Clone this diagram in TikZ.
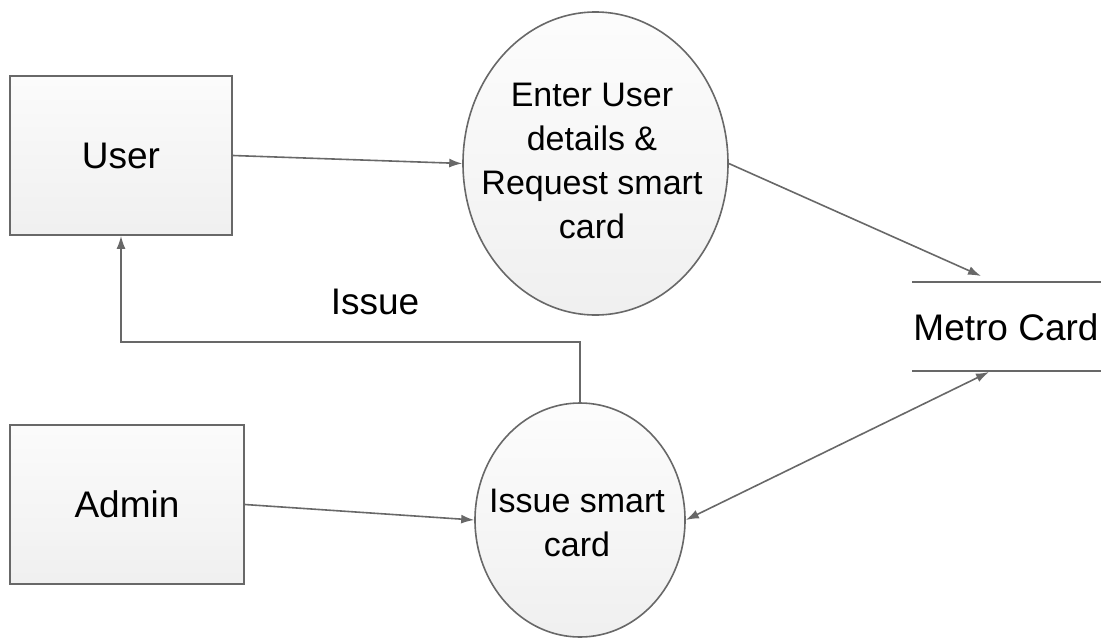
\documentclass[tikz,border=0pt]{standalone}
\usepackage{fontspec}
\setmainfont{Liberation Sans}
\usetikzlibrary{arrows.meta,shapes.geometric}
\definecolor{edge}{HTML}{686868}
\begin{document}
\begin{tikzpicture}[x=1pt,y=-1pt,
  >={Latex[length=13pt,width=9pt]},
  entity/.style={draw=edge, line width=1.8pt, top color=gray!3, bottom color=gray!12,
    minimum width=#1, minimum height=159pt, inner sep=0pt,
    font=\fontsize{37}{44}\selectfont},
  proc/.style={ellipse, draw=edge, line width=1.6pt, top color=gray!2, bottom color=gray!12, inner sep=0pt},
  ptext/.style={align=center, font=\fontsize{34}{44}\selectfont, inner sep=0pt},
  conn/.style={draw=edge, line width=1.6pt},
  lab/.style={font=\fontsize{37}{44}\selectfont, inner sep=0pt}]
\useasboundingbox (0,0) rectangle (1113,640);

% entities
\node[entity=222pt] (user) at (121,155.5) {User};
\node[entity=234pt] (admin) at (127,504.5) {Admin};

% processes
\node[proc, minimum width=265pt, minimum height=303pt] (p1) at (595.5,163.5) {};
\node[ptext] (p1t) at (592,161) {Enter User\\details \&\\Request smart\\card};
\node[proc, minimum width=210pt, minimum height=234pt] (p2) at (580,520) {};
\node[ptext] (p2t) at (577,523) {Issue smart\\card};

% data store
\coordinate (sTL) at (912,282);
\coordinate (sTR) at (1101,282);
\coordinate (sBL) at (912,371);
\coordinate (sBR) at (1101,371);
\draw[conn] (sTL) -- (sTR);
\draw[conn] (sBL) -- (sBR);
\node[lab] (store) at (1006,327) {Metro Card};
\coordinate (m1) at (981,276);
\coordinate (m2) at (989,372);

% label
\node[lab] (issue) at (375,302) {Issue};

% connectors
\draw[conn,->] (user.east) -- (p1.west);
\draw[conn,->] (p1.east) -- (m1);
\draw[conn,->] (admin.east) -- (p2.west);
\draw[conn,<->] (p2.east) -- (m2);
\coordinate (bend) at (121,342);
\draw[conn,->] (p2.north) |- (bend) -- (user.south);
\end{tikzpicture}
\end{document}
